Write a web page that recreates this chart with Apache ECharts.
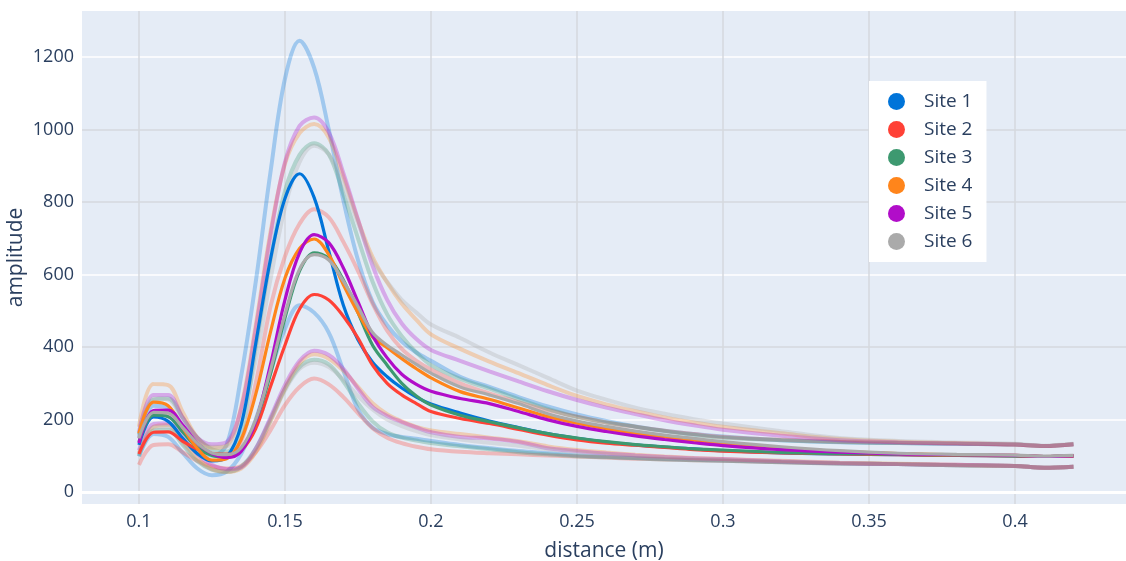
<!DOCTYPE html>
<html>
<head>
<meta charset="utf-8">
<script src="https://cdn.jsdelivr.net/npm/echarts@6/dist/echarts.min.js"></script>
<style>
html,body{margin:0;padding:0;background:#fff;}
#chart{width:1126px;height:561px;}
</style>
</head>
<body>
<div id="chart"></div>
<script>
// distance (m) sample positions
var distances = [0.100,0.105,0.110,0.115,0.120,0.125,0.130,0.135,0.140,0.145,0.150,0.155,0.160,0.165,0.170,0.175,0.180,0.185,0.190,0.195,0.200,0.210,0.220,0.230,0.240,0.250,0.260,0.270,0.280,0.290,0.300,0.320,0.340,0.360,0.380,0.400,0.410,0.420];

var siteNames = ['Site 1','Site 2','Site 3','Site 4','Site 5','Site 6'];
var siteColors = ['#0074D9','#FF4136','#3D9970','#FF851B','#B10DC9','#AAAAAA'];

var site1Main  = [130,207,195,148,106,86,96,185,410,640,810,878,812,665,515,420,358,318,287,262,243,218,196,178,161,148,138,130,124,119,114,108,105,103,101,100,98,100];
var site1Upper = [152,238,232,180,128,100,130,320,580,880,1140,1245,1170,1000,805,640,525,460,415,385,362,318,290,262,236,214,196,181,169,160,153,143,137,135,133,131,127,132];
var site1Lower = [98,160,152,108,65,46,56,105,200,330,450,515,495,440,335,228,178,160,152,147,141,130,121,113,107,101,97,94,91,89,87,83,79,77,74,72,67,70];

var site2Main  = [105,165,166,140,118,106,104,115,175,290,405,505,545,530,485,425,350,300,268,244,222,203,189,173,157,144,135,129,123,117,113,108,105,103,101,100,98,99];
var site2Upper = [148,212,214,172,130,106,104,140,300,510,650,740,780,758,690,610,520,445,395,362,338,300,272,248,226,208,192,180,169,160,152,144,139,136,134,131,127,132];
var site2Lower = [75,130,132,110,86,71,65,72,110,170,240,290,313,297,262,218,176,150,135,125,118,111,107,104,101,98,95,92,90,88,86,82,79,77,74,72,67,70];

var site3Main  = [138,212,208,165,122,101,97,118,195,325,480,610,660,645,585,495,405,350,300,265,240,212,194,177,161,149,139,131,125,119,116,109,106,104,102,100,98,100];
var site3Upper = [158,255,258,205,150,118,112,165,400,640,830,930,962,932,822,700,580,490,430,385,350,312,285,256,229,207,192,180,168,158,150,143,138,135,133,131,127,132];
var site3Lower = [100,170,172,130,85,62,56,70,120,200,285,345,365,352,305,245,195,165,150,142,135,126,118,110,104,99,96,93,90,88,86,82,79,77,74,72,67,70];

var site4Main  = [162,248,238,178,120,88,92,145,270,440,590,672,698,655,572,495,428,398,368,340,315,277,256,232,208,190,175,162,152,143,135,121,112,106,103,101,98,100];
var site4Upper = [180,298,295,220,150,122,128,235,460,715,905,990,1015,978,870,750,648,578,520,475,435,395,360,328,295,265,242,223,206,192,180,162,146,139,135,131,127,132];
var site4Lower = [108,180,185,140,92,64,56,65,110,195,285,355,380,368,335,290,245,215,195,180,170,160,150,140,126,116,109,103,98,94,91,86,81,78,75,72,67,70];

var site5Main  = [135,225,226,185,135,106,95,112,195,350,530,660,710,688,618,525,432,370,325,297,278,258,244,222,199,181,167,155,145,136,128,117,110,105,103,101,98,100];
var site5Upper = [165,268,268,205,150,132,138,230,450,705,910,1010,1033,992,880,752,625,530,465,422,392,362,333,305,278,254,233,215,198,184,172,155,143,137,134,131,127,132];
var site5Lower = [115,188,190,150,105,75,63,68,120,205,295,362,390,378,340,285,235,210,193,178,165,152,148,138,121,113,106,101,97,93,91,85,80,77,75,72,67,70];

var site6Main  = [148,220,218,178,135,108,103,122,200,335,490,615,655,640,582,512,440,405,378,352,328,290,268,244,216,196,181,168,157,148,139,125,114,107,104,102,99,101];
var site6Upper = [160,258,255,200,148,125,125,200,365,585,785,910,955,932,850,742,640,580,530,495,462,425,385,350,315,280,255,233,216,201,189,168,149,141,137,133,128,133];
var site6Lower = [105,178,180,135,88,62,56,68,115,195,280,340,357,345,310,265,228,200,182,168,157,145,136,128,118,110,104,99,95,92,89,84,80,77,74,72,67,70];

var mains  = [site1Main, site2Main, site3Main, site4Main, site5Main, site6Main];
var uppers = [site1Upper, site2Upper, site3Upper, site4Upper, site5Upper, site6Upper];
var lowers = [site1Lower, site2Lower, site3Lower, site4Lower, site5Lower, site6Lower];

function pairs(ys){ return distances.map(function(x,i){ return [x, ys[i]]; }); }

var series = [];
for (var i = 0; i < 6; i++) {
  [uppers[i], lowers[i]].forEach(function(arr, k){
    series.push({
      type:'line', name: siteNames[i] + (k===0?' upper':' lower'),
      data: pairs(arr), showSymbol:false, smooth:0.35,
      lineStyle:{color: siteColors[i], width:4, opacity:0.3},
      itemStyle:{color: siteColors[i]}, silent:true, z:2
    });
  });
}
for (var j = 0; j < 6; j++) {
  series.push({
    type:'line', name: siteNames[j], data: pairs(mains[j]),
    showSymbol:false, smooth:0.35,
    lineStyle:{color: siteColors[j], width:3.2},
    itemStyle:{color: siteColors[j]}, silent:true, z:3
  });
}
series[0].markLine = {
  silent:true, symbol:'none', label:{show:false},
  lineStyle:{color:'#ffffff', width:3, type:'solid', opacity:1},
  data:[{yAxis:0}]
};

var gray = '#d5d8de';
var chart = echarts.init(document.getElementById('chart'), null, {renderer:'canvas'});
chart.setOption({
  animation:false,
  backgroundColor:'#ffffff',
  textStyle:{fontFamily:'"Open Sans", "Noto Sans", sans-serif'},
  grid:{left:82, right:0, top:11, bottom:57, containLabel:false, outerBoundsMode:'none',
        show:true, backgroundColor:'#E5ECF6', borderWidth:0},
  legend:{
    data: siteNames, orient:'vertical', left:869, top:81,
    backgroundColor:'#ffffff', padding:[11,14,11,19],
    icon:'circle', itemWidth:17, itemHeight:17, itemGap:9,
    textStyle:{fontSize:19, lineHeight:18, color:'#2a3f5f', padding:[0,0,0,14]}
  },
  xAxis:{
    type:'value', min:0.0805, max:0.438, splitNumber:7, minInterval:0.05, maxInterval:0.05,
    name:'distance (m)', nameLocation:'middle', nameGap:37, nameMoveOverlap:false,
    nameTextStyle:{fontSize:21, color:'#2a3f5f'},
    axisLine:{show:false}, axisTick:{show:false},
    axisLabel:{fontSize:18, color:'#2a3f5f', margin:9, showMinLabel:false, showMaxLabel:false,
               formatter:function(v){ return String(+v.toFixed(3)); }},
    splitLine:{show:true, lineStyle:{color:['rgba(0,0,0,0)',gray,gray,gray,gray,gray,gray,gray,'rgba(0,0,0,0)'], width:1.5}}
  },
  yAxis:{
    type:'value', min:-33, max:1327, splitNumber:7, minInterval:200, maxInterval:200,
    name:'amplitude', nameLocation:'middle', nameGap:55, nameMoveOverlap:false,
    nameTextStyle:{fontSize:21, color:'#2a3f5f'},
    axisLine:{show:false}, axisTick:{show:false},
    axisLabel:{fontSize:18, color:'#2a3f5f', margin:8, showMinLabel:false, showMaxLabel:false,
               formatter:function(v){ return String(Math.round(v)); }},
    splitLine:{show:true, lineStyle:{color:['rgba(0,0,0,0)','#ffffff','#ffffff',gray,'#ffffff',gray,gray,'#ffffff','rgba(0,0,0,0)'], width:1.5}}
  },
  series: series
});
</script>
</body>
</html>
